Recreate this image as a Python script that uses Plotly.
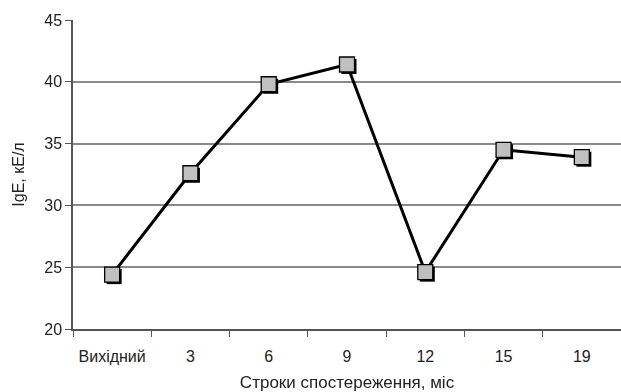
import plotly.graph_objects as go

categories = ["Вихідний", "3", "6", "9", "12", "15", "19"]
ige_values = [24.4, 32.6, 39.8, 41.4, 24.6, 34.5, 33.9]
y_ticks = [20, 25, 30, 35, 40, 45]

fig = go.Figure()
# invisible base trace that anchors the visible axes
fig.add_trace(go.Scatter(
    x=categories, y=ige_values, mode="markers", opacity=0,
    hoverinfo="skip", showlegend=False))
# shadow of markers (drawn on an overlaid axis shifted by ~2px)
fig.add_trace(go.Scatter(
    x=categories, y=ige_values, mode="markers",
    marker=dict(symbol="square", size=15, color="#000000", line=dict(width=0)),
    xaxis="x2", yaxis="y2", hoverinfo="skip", showlegend=False))
fig.add_trace(go.Scatter(
    x=categories, y=ige_values, mode="lines+markers",
    line=dict(color="#000000", width=3),
    marker=dict(symbol="square", size=15, color="#c0c0c0", line=dict(color="#000000", width=1.3)),
    xaxis="x3", yaxis="y3", showlegend=False))

font = dict(family="Liberation Sans, Arial, sans-serif", size=16, color="#222222")
title_font = dict(family="Liberation Sans, Arial, sans-serif", size=17, color="#222222")
plot_w = 621 - 73
plot_h = 329 - 20
dx = 2 / plot_w * 7
dy = 2 / plot_h * 25

cat_axis = dict(type="category", categoryorder="array", categoryarray=categories)

fig.update_layout(
    width=621, height=392,
    margin=dict(l=73, r=0, t=20, b=63),
    plot_bgcolor="white", paper_bgcolor="white",
    font=font,
    xaxis=dict(
        **cat_axis,
        range=[-0.5, 6.5], tickson="boundaries", ticks="outside", ticklen=6,
        tickcolor="#555555", showline=True, linecolor="#555555", linewidth=1.5,
        showgrid=False, tickfont=font, ticklabelstandoff=12,
        title=dict(text="Строки спостереження, міс", font=title_font, standoff=12),
    ),
    xaxis2=dict(**cat_axis, range=[-0.5 - dx, 6.5 - dx], overlaying="x", visible=False),
    xaxis3=dict(**cat_axis, range=[-0.5, 6.5], overlaying="x", visible=False),
    yaxis=dict(
        range=[20, 45], tickvals=y_ticks, ticks="outside", ticklen=6,
        tickcolor="#555555", showline=True, linecolor="#555555", linewidth=1.5,
        showgrid=True, gridcolor="#8a8a8a", gridwidth=1.5, tickfont=font,
        zeroline=False,
        title=dict(text="IgE, кЕ/л", font=font, standoff=16),
    ),
    yaxis2=dict(range=[20 + dy, 45 + dy], overlaying="y", visible=False),
    yaxis3=dict(range=[20, 45], overlaying="y", visible=False),
)

fig.write_html("out.html")
